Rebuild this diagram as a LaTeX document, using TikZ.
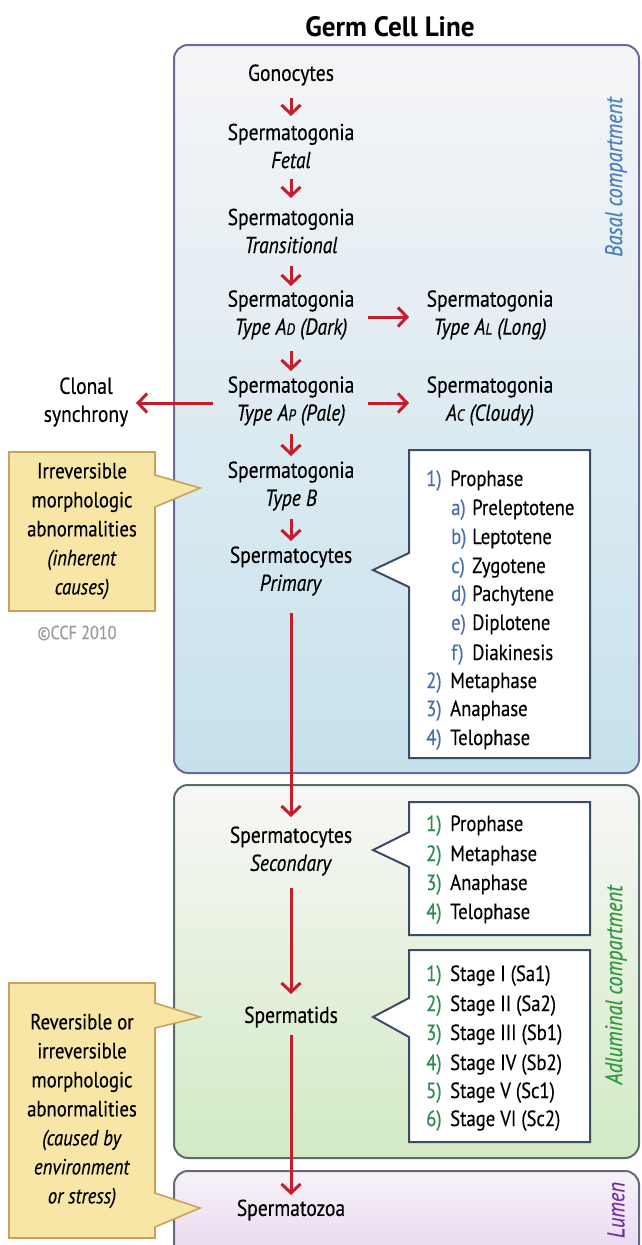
\documentclass[tikz,border=0pt]{standalone}
\usepackage{fontspec}
\setmainfont{PT Sans}[FakeStretch=0.85,FakeBold=0.35]
\newfontfamily\titlefont{PT Sans}[FakeStretch=0.97]
\usetikzlibrary{arrows.meta,calc}
\definecolor{arrred}{HTML}{C41E2A}
\definecolor{basalTop}{HTML}{F5F5F7}
\definecolor{basalBot}{HTML}{C6E1EC}
\definecolor{basalLine}{HTML}{6B6A9C}
\definecolor{adlTop}{HTML}{F7F7F6}
\definecolor{adlBot}{HTML}{D2EAC4}
\definecolor{adlLine}{HTML}{5A6B6B}
\definecolor{lumTop}{HTML}{F7F2F8}
\definecolor{lumBot}{HTML}{E6D4EE}
\definecolor{lumLine}{HTML}{66687A}
\definecolor{calloutFill}{HTML}{F8E6A6}
\definecolor{calloutLine}{HTML}{C9A15A}
\definecolor{listLine}{HTML}{3C4C68}
\definecolor{numblue}{HTML}{4A6EB0}
\definecolor{numgreen}{HTML}{2E8A4E}
\definecolor{basalTxt}{HTML}{4A7EC0}
\definecolor{adlTxt}{HTML}{2E9A3E}
\definecolor{lumTxt}{HTML}{7434A0}
\definecolor{ccfGrey}{HTML}{9A9A9A}
\newcommand{\smallcap}[1]{{\fontsize{16}{16}\selectfont #1}}
\begin{document}
\begin{tikzpicture}[x=1pt,y=-1pt,
  main/.style={align=center,inner sep=0pt,font=\fontsize{23}{28}\selectfont},
  arr/.style={draw=arrred,line width=3pt,-{Straight Barb[length=9pt,width=19pt]}},
  item/.style={anchor=base west,inner sep=0pt,font=\fontsize{22}{22}\selectfont},
  yel/.style={align=center,inner sep=0pt,font=\fontsize{22}{29}\selectfont},
  compbox/.style={line width=2pt,rounded corners=14pt},
  listbox/.style={fill=white,draw=listLine,line width=2pt,line join=miter},
  callout/.style={fill=calloutFill,draw=calloutLine,line width=1.6pt},
  vlabel/.style={rotate=90,inner sep=0pt,font=\fontsize{24}{24}\selectfont\itshape}
]
\useasboundingbox (0,0) rectangle (641,1245);
\fill[white] (0,0) rectangle (641,1245);

% compartments
\shadedraw[compbox,top color=basalTop,bottom color=basalBot,draw=basalLine] (174,45) rectangle (639,773);
\shadedraw[compbox,top color=adlTop,bottom color=adlBot,draw=adlLine] (174,785) rectangle (639,1158);
\shadedraw[compbox,top color=lumTop,bottom color=lumBot,draw=lumLine] (174,1171) rectangle (639,1270);

\node[vlabel,text=basalTxt] (lbBasal) at (616,177) {Basal compartment};
\node[vlabel,text=adlTxt] (lbAdl) at (616,985) {Adluminal compartment};
\node[vlabel,text=lumTxt] (lbLum) at (616,1210) {Lumen};

% title
\node[inner sep=0pt,font=\fontsize{28}{28}\selectfont\titlefont\bfseries] (title) at (390,27) {Germ Cell Line};

% main column
\node[main] (gono) at (291,75) {Gonocytes};
\node[main] (sgF) at (291,146) {Spermatogonia\\\textit{Fetal}};
\node[main] (sgT) at (291,231) {Spermatogonia\\\textit{Transitional}};
\node[main] (sgAD) at (291,315) {Spermatogonia\\\textit{Type A\smallcap{D} (Dark)}};
\node[main] (sgAP) at (291,401) {Spermatogonia\\\textit{Type A\smallcap{P} (Pale)}};
\node[main] (sgB) at (291,486) {Spermatogonia\\\textit{Type B}};
\node[main] (scP) at (291,571) {Spermatocytes\\\textit{Primary}};
\node[main] (scS) at (291,851) {Spermatocytes\\\textit{Secondary}};
\node[main] (std) at (291,1017) {Spermatids};
\node[main] (szoa) at (291,1210) {Spermatozoa};

\node[main] (sgAL) at (490,315) {Spermatogonia\\\textit{Type A\smallcap{L} (Long)}};
\node[main] (sgAC) at (490,401) {Spermatogonia\\\textit{A\smallcap{C} (Cloudy)}};
\node[main] (clonal) at (86,402) {Clonal\\synchrony};

% arrows
\draw[arr] ($(gono.center)+(0,23)$) -- ($(sgF.center)+(0,-30)$);
\draw[arr] ($(sgF.center)+(0,33)$) -- ($(sgT.center)+(0,-33)$);
\draw[arr] ($(sgT.center)+(0,35)$) -- ($(sgAD.center)+(0,-29)$);
\draw[arr] ($(sgAD.center)+(0,36)$) -- ($(sgAP.center)+(0,-30)$);
\draw[arr] ($(sgAP.center)+(0,33)$) -- ($(sgB.center)+(0,-30)$);
\draw[arr] ($(sgB.center)+(0,33)$) -- ($(scP.center)+(0,-30)$);
\draw[arr] ($(scP.center)+(0,42)$) -- ($(scS.center)+(0,-34)$);
\draw[arr] ($(scS.center)+(0,37)$) -- ($(std.center)+(0,-23)$);
\draw[arr] ($(std.center)+(0,18)$) -- ($(szoa.center)+(0,-15)$);
\draw[arr] ($(sgAD.center)+(77,2)$) -- ($(sgAL.center)+(-81,2)$);
\draw[arr] ($(sgAP.center)+(77,2)$) -- ($(sgAC.center)+(-81,2)$);
\draw[arr] ($(sgAP.center)+(-78,2)$) -- ($(clonal.center)+(50,1)$);

% right list callouts
\draw[listbox] (409,450) -- (590,450) -- (590,758) -- (409,758) -- (409,587) -- (373,570) -- (409,553) -- cycle;
\draw[listbox] (409,802) -- (590,802) -- (590,935) -- (409,935) -- (409,867) -- (373,850) -- (409,832) -- cycle;
\draw[listbox] (409,950) -- (590,950) -- (590,1142) -- (409,1142) -- (409,1037) -- (373,1017) -- (409,998) -- cycle;

\node[item] (pA1) at (426,486) {\makebox[24pt][l]{\textcolor{numblue}{1)}}Prophase};
\node[item] (pAa) at (451,515) {\makebox[21pt][l]{\textcolor{numblue}{a)}}Preleptotene};
\node[item] (pAb) at (451,544) {\makebox[21pt][l]{\textcolor{numblue}{b)}}Leptotene};
\node[item] (pAc) at (451,573) {\makebox[21pt][l]{\textcolor{numblue}{c)}}Zygotene};
\node[item] (pAd) at (451,601) {\makebox[21pt][l]{\textcolor{numblue}{d)}}Pachytene};
\node[item] (pAe) at (451,630) {\makebox[21pt][l]{\textcolor{numblue}{e)}}Diplotene};
\node[item] (pAf) at (451,660) {\makebox[21pt][l]{\textcolor{numblue}{f)}}Diakinesis};
\node[item] (pA2) at (426,688) {\makebox[24pt][l]{\textcolor{numblue}{2)}}Metaphase};
\node[item] (pA3) at (426,716) {\makebox[24pt][l]{\textcolor{numblue}{3)}}Anaphase};
\node[item] (pA4) at (426,745) {\makebox[24pt][l]{\textcolor{numblue}{4)}}Telophase};

\node[item] (pB1) at (426,831) {\makebox[24pt][l]{\textcolor{numgreen}{1)}}Prophase};
\node[item] (pB2) at (426,861) {\makebox[24pt][l]{\textcolor{numgreen}{2)}}Metaphase};
\node[item] (pB3) at (426,890) {\makebox[24pt][l]{\textcolor{numgreen}{3)}}Anaphase};
\node[item] (pB4) at (426,919) {\makebox[24pt][l]{\textcolor{numgreen}{4)}}Telophase};

\node[item] (pC1) at (426,981) {\makebox[24pt][l]{\textcolor{numgreen}{1)}}Stage I (Sa1)};
\node[item] (pC2) at (426,1011) {\makebox[24pt][l]{\textcolor{numgreen}{2)}}Stage II (Sa2)};
\node[item] (pC3) at (426,1040) {\makebox[24pt][l]{\textcolor{numgreen}{3)}}Stage III (Sb1)};
\node[item] (pC4) at (426,1070) {\makebox[24pt][l]{\textcolor{numgreen}{4)}}Stage IV (Sb2)};
\node[item] (pC5) at (426,1098) {\makebox[24pt][l]{\textcolor{numgreen}{5)}}Stage V (Sc1)};
\node[item] (pC6) at (426,1126) {\makebox[24pt][l]{\textcolor{numgreen}{6)}}Stage VI (Sc2)};

% yellow callouts
\draw[callout] (9,452) -- (155,452) -- (155,475) -- (200,488) -- (155,507) -- (155,611) -- (9,611) -- cycle;
\node[yel] (irr) at (82,531) {Irreversible\\morphologic\\abnormalities\\\textit{(inherent}\\\textit{causes)}};

\draw[callout] (9,983) -- (155,983) -- (155,1003) -- (200,1017) -- (155,1028) -- (155,1193) -- (200,1208) -- (155,1227) -- (155,1238) -- (9,1238) -- cycle;
\node[yel] (rev) at (82,1111) {Reversible or\\irreversible\\morphologic\\abnormalities\\\textit{(caused by}\\\textit{environment}\\\textit{or stress)}};

\node[inner sep=0pt,text=ccfGrey,font=\fontsize{19}{20}\selectfont] (ccf) at (77,633) {©CCF 2010};
\end{tikzpicture}
\end{document}
